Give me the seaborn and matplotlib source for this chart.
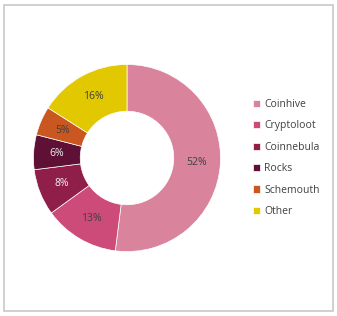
import matplotlib
matplotlib.use("Agg")
import matplotlib.pyplot as plt
import seaborn as sns
from matplotlib.patches import Rectangle

sns.set_theme(style="white")
plt.rcParams['font.family'] = ['Open Sans', 'DejaVu Sans']

categories = ["Coinhive", "Cryptoloot", "Coinnebula", "Rocks", "Schemouth", "Other"]
values = [52, 13, 8, 6, 5, 16]
colors = ["#D9849C", "#CC4B78", "#8F1F49", "#5E1035", "#C9571F", "#E2C800"]
label_colors = ["#404040", "#404040", "#F0F0F0", "#F0F0F0", "#404040", "#404040"]

fig = plt.figure(figsize=(3.37, 3.16), dpi=100)
fig.patches.append(Rectangle((4/337, 5/316), 329/337, 306/316, transform=fig.transFigure,
                             fill=False, edgecolor="#C8C8C8", linewidth=1.2))

ax = fig.add_axes([33/337, 1 - 252/316, 188/337, 188/316])
wedges, texts, autotexts = ax.pie(
    values, colors=colors, startangle=90, counterclock=False,
    radius=1.0, wedgeprops=dict(width=0.5, edgecolor="white", linewidth=0.5),
    autopct=lambda p: f"{p:.0f}%", pctdistance=0.75,
    textprops=dict(fontsize=7.5),
)
for t, c in zip(autotexts, label_colors):
    t.set_color(c)
ax.set_xlim(-1.005, 1.005)
ax.set_ylim(-1.005, 1.005)
ax.set_aspect("equal")

leg = fig.legend(wedges, categories, loc="upper left", bbox_to_anchor=(253/337, 1 - 99/316),
                 frameon=False, fontsize=7.5, handlelength=0.7, handleheight=0.7,
                 handletextpad=0.4, labelspacing=1.0, borderaxespad=0, borderpad=0)
for t in leg.get_texts():
    t.set_color("#404040")

fig.savefig("out.png", dpi=100)
